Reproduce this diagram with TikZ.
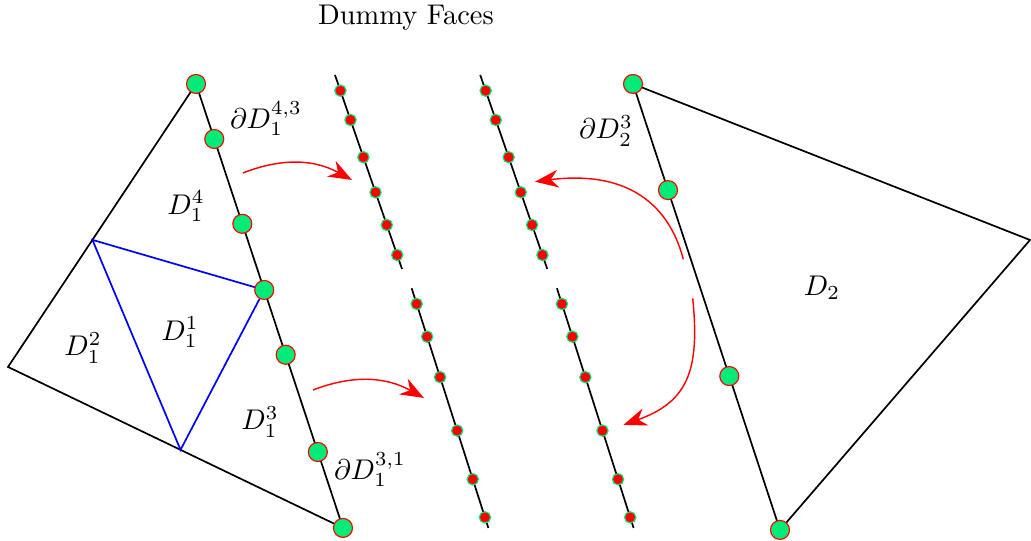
\documentclass[tikz,border=0pt]{standalone}
\usepackage{tikz}
\usetikzlibrary{arrows.meta, calc}
\definecolor{dotgreen}{RGB}{0,235,120}

\begin{document}
\begin{tikzpicture}
    \tikzset{
        face edge/.style={semithick, black},
        split edge/.style={semithick, blue},
        big dot/.style={circle, draw=red, fill=dotgreen, inner sep=0pt, minimum size=0.235cm},
        small dot/.style={circle, draw=dotgreen, fill=red, inner sep=0pt, minimum size=0.14cm},
        map arrow/.style={-{Stealth[length=2.9mm, width=2.2mm]}, red, line width=0.5pt},
        face label/.style={font=\normalsize, inner sep=0pt}
    }
    \useasboundingbox (0,0) rectangle (12.733,6.681);

    % left face D_1
    \coordinate (A) at (2.421,5.644);
    \coordinate (L) at (0.099,2.149);
    \coordinate (B) at (4.236,0.161);
    \coordinate (M) at ($(A)!0.551!(L)$);
    \coordinate (C) at ($(A)!0.464!(B)$);
    \coordinate (N) at ($(L)!0.515!(B)$);
    \draw[face edge] (A) -- (L) -- (B) -- cycle;
    \draw[split edge] (M) -- (C) -- (N) -- cycle;

    % right face D_2
    \coordinate (P) at (7.818,5.644);
    \coordinate (Q) at (12.721,3.717);
    \coordinate (R) at (9.633,0.136);
    \draw[face edge] (P) -- (Q) -- (R) -- cycle;

    % dummy faces
    \coordinate (s1a) at (4.137,5.755);
    \coordinate (s1b) at (4.965,3.359);
    \coordinate (s2a) at (5.084,3.121);
    \coordinate (s2b) at (6.031,0.161);
    \coordinate (s3a) at ($(s1a)+(1.794,0)$);
    \coordinate (s3b) at ($(s1b)+(1.794,0)$);
    \coordinate (s4a) at ($(s2a)+(1.794,0)$);
    \coordinate (s4b) at ($(s2b)+(1.794,0)$);
    \foreach \s in {1,...,4}
        \draw[face edge] (s\s a) -- (s\s b);

    \foreach \t [count=\i] in {0.081,0.232,0.424,0.605,0.773,0.928} {
        \node[small dot] (d1\i) at ($(s1a)!\t!(s1b)$) {};
        \node[small dot] (d3\i) at ($(s3a)!\t!(s3b)$) {};
    }
    \foreach \t [count=\i] in {0.0655,0.202,0.371,0.594,0.797,0.956} {
        \node[small dot] (d2\i) at ($(s2a)!\t!(s2b)$) {};
        \node[small dot] (d4\i) at ($(s4a)!\t!(s4b)$) {};
    }

    % vertices on the shared edges
    \node[big dot] (a0) at (A) {};
    \node[big dot] (a7) at (B) {};
    \foreach \t [count=\i] in {0.124,0.315,0.464,0.610,0.829}
        \node[big dot] (a\i) at ($(A)!\t!(B)$) {};
    \node[big dot] (b0) at (P) {};
    \node[big dot] (b3) at (R) {};
    \foreach \t [count=\i] in {0.238,0.655}
        \node[big dot] (b\i) at ($(P)!\t!(R)$) {};

    % mapping arrows
    \coordinate (f1a) at (3.001,4.545);
    \coordinate (f1b) at (4.347,4.458);
    \coordinate (f2a) at (3.866,1.865);
    \coordinate (f2b) at (5.236,1.766);
    \coordinate (f3a) at (8.439,3.479);
    \coordinate (f3b) at (6.607,4.437);
    \coordinate (f4a) at (8.555,2.997);
    \coordinate (f4b) at (7.698,1.433);
    \draw[map arrow] (f1a) to[bend left=25] (f1b);
    \draw[map arrow] (f2a) to[bend left=25] (f2b);
    \draw[map arrow] (f3a) .. controls (8.213,4.335) and (7.534,4.557) .. (f3b);
    \draw[map arrow] (f4a) .. controls (8.645,2.112) and (8.497,1.717) .. (f4b);

    \node[face label] (title) at (5.014,6.459) {Dummy Faces};
    \node[face label] (bd43) at (3.285,5.212) {$\partial D_1^{4,3}$};
    \node[face label] (D14) at (2.297,4.137) {$D_1^4$};
    \node[face label] (D11) at (2.223,2.581) {$D_1^1$};
    \node[face label] (D12) at (1.025,2.384) {$D_1^2$};
    \node[face label] (D13) at (3.211,1.470) {$D_1^3$};
    \node[face label] (bd31) at (4.570,0.877) {$\partial D_1^{3,1}$};
    \node[face label] (bd23) at (7.484,5.064) {$\partial D_2^3$};
    \node[face label] (D2) at (10.152,3.125) {$D_2$};
\end{tikzpicture}
\end{document}
